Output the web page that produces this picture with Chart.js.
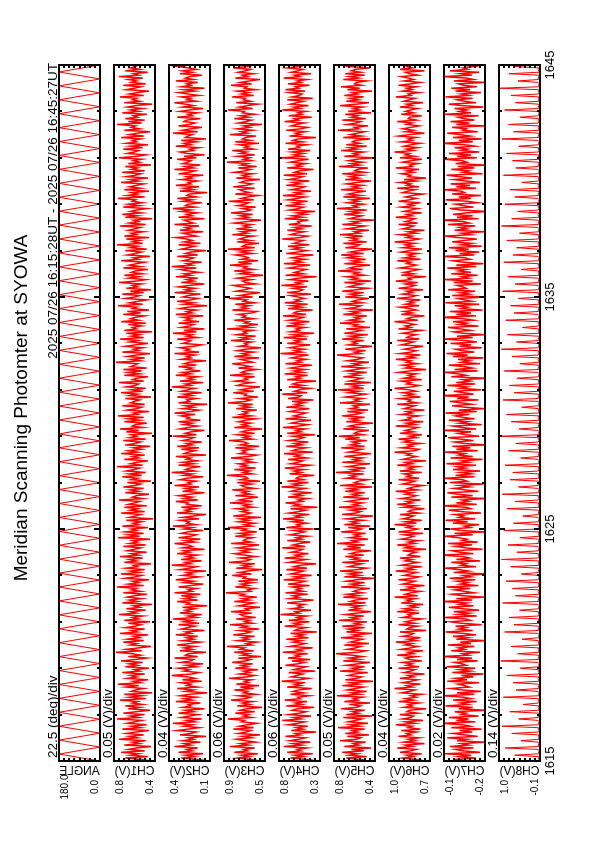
<!DOCTYPE html>
<html>
<head>
<meta charset="utf-8">
<script src="https://cdn.jsdelivr.net/npm/chart.js@4.4.0/dist/chart.umd.min.js"></script>
<style>
  html, body { margin: 0; padding: 0; background: #fff; overflow: hidden; }
  /* the plot is laid out in landscape and turned to portrait */
  #page { position: absolute; left: 0; top: 0; width: 842px; height: 595px;
          transform-origin: 0 0; transform: translate(0, 842px) rotate(-90deg); }
  #page canvas { position: absolute; left: 0; }
</style>
</head>
<body>
<div id="page"></div>
<script>
// ---- data ----
const titleText = 'Meridian Scanning Photomter at SYOWA';
const periodText = '2025 07/26 16:15:28UT - 2025 07/26 16:45:27UT';
const timeTicks = [15, 25, 35, 45];           // minutes after 16:00
const panelNames = ['ANGLE', 'CH1(V)', 'CH2(V)', 'CH3(V)', 'CH4(V)', 'CH5(V)', 'CH6(V)', 'CH7(V)', 'CH8(V)'];
const divLabels = ['22.5 (deg)/div', '0.05 (V)/div', '0.04 (V)/div', '0.06 (V)/div', '0.06 (V)/div',
                   '0.05 (V)/div', '0.04 (V)/div', '0.02 (V)/div', '0.14 (V)/div'];
const axisMax = [180, 0.8, 0.4, 0.9, 0.8, 0.8, 1.0, -0.1, 1.0];
const axisMin = [0, 0.4, 0.1, 0.5, 0.3, 0.4, 0.7, -0.2, -0.1];

const SAMPLE_START = 15;     // min
const SAMPLE_STEP = 0.0625;  // min between photometer samples
const ANGLE_STEP = 0.3;      // min per sweep

// mirror angle at the turning points of each sweep
const angleDeg = [0,180,0,180,0,180,0,180,0,180,0,180,0,180,0,180,0,180,0,180,
  0,180,0,180,0,180,0,180,0,180,0,180,0,180,0,180,0,180,0,180,
  0,180,0,180,0,180,0,180,0,180,0,180,0,180,0,180,0,180,0,180,
  0,180,0,180,0,180,0,180,0,180,0,180,0,180,0,180,0,180,0,180,
  0,180,0,180,0,180,0,180,0,180,0,180,0,180,0,180,0,180,0,180,0];

const ch1 = [0.61,0.52,0.69,0.47,0.64,0.56,0.73,0.50,0.66,0.58,0.44,0.70,0.55,0.62,0.49,0.75,0.57,0.65,0.51,0.68,
  0.59,0.46,0.72,0.54,0.63,0.48,0.67,0.60,0.53,0.77,0.56,0.64,0.50,0.71,0.58,0.45,0.66,0.55,0.69,0.52,
  0.62,0.57,0.74,0.49,0.65,0.53,0.70,0.43,0.63,0.59,0.51,0.68,0.56,0.76,0.54,0.61,0.47,0.67,0.58,0.64,
  0.50,0.72,0.55,0.60,0.46,0.69,0.57,0.65,0.52,0.73,0.59,0.48,0.66,0.54,0.62,0.78,0.53,0.68,0.56,0.44,
  0.64,0.58,0.71,0.51,0.67,0.55,0.61,0.47,0.74,0.57,0.63,0.50,0.69,0.59,0.54,0.66,0.45,0.70,0.56,0.62,
  0.52,0.75,0.58,0.64,0.49,0.68,0.55,0.61,0.43,0.72,0.57,0.65,0.53,0.67,0.60,0.48,0.71,0.54,0.63,0.58,
  0.77,0.51,0.66,0.56,0.62,0.46,0.69,0.59,0.53,0.73,0.55,0.64,0.50,0.68,0.57,0.61,0.44,0.70,0.58,0.65,
  0.52,0.74,0.56,0.63,0.48,0.67,0.60,0.54,0.71,0.49,0.65,0.57,0.62,0.45,0.76,0.55,0.66,0.51,0.69,0.58,
  0.63,0.47,0.72,0.56,0.61,0.53,0.68,0.42,0.65,0.59,0.54,0.73,0.50,0.64,0.57,0.70,0.48,0.66,0.60,0.55,
  0.75,0.52,0.62,0.58,0.46,0.69,0.56,0.64,0.51,0.71,0.59,0.54,0.67,0.44,0.63,0.57,0.72,0.53,0.65,0.49,
  0.68,0.60,0.55,0.77,0.52,0.64,0.58,0.47,0.70,0.56,0.62,0.50,0.73,0.57,0.66,0.53,0.61,0.45,0.69,0.59,
  0.54,0.71,0.49,0.65,0.58,0.63,0.43,0.68,0.56,0.74,0.52,0.62,0.59,0.48,0.70,0.55,0.66,0.51,0.76,0.57,
  0.61,0.46,0.67,0.58,0.53,0.72,0.50,0.64,0.60,0.55,0.69,0.44,0.65,0.57,0.73,0.52,0.63,0.49,0.68,0.59,
  0.56,0.75,0.51,0.62,0.58,0.47,0.70,0.55,0.66,0.53,0.71,0.48,0.64,0.60,0.57,0.78,0.54,0.63,0.50,0.67,
  0.58,0.45,0.72,0.56,0.61,0.52,0.69,0.59,0.47,0.65,0.57,0.74,0.51,0.63,0.55,0.68,0.43,0.70,0.58,0.62,
  0.53,0.66,0.49,0.73,0.56,0.64,0.59,0.50,0.71,0.54,0.67,0.46,0.62,0.58,0.76,0.52,0.65,0.57,0.48,0.69,
  0.60,0.55,0.72,0.51,0.64,0.44,0.68,0.57,0.62,0.53,0.75,0.58,0.49,0.66,0.56,0.70,0.52,0.63,0.59,0.47,
  0.71,0.54,0.65,0.58,0.50,0.73,0.56,0.61,0.45,0.67,0.59,0.53,0.69,0.48,0.64,0.57,0.77,0.52,0.62,0.55,
  0.68,0.46,0.70,0.58,0.63,0.51,0.66,0.60,0.54,0.74,0.49,0.65,0.56,0.61,0.43,0.69,0.57,0.72,0.53,0.64,
  0.58,0.48,0.71,0.55,0.66,0.52,0.62,0.59,0.76,0.50,0.67,0.57,0.63,0.46,0.70,0.54,0.65,0.58,0.51,0.73,
  0.56,0.64,0.47,0.68,0.59,0.54,0.72,0.50,0.63,0.57,0.69,0.44,0.66,0.55,0.61,0.53,0.75,0.58,0.49,0.67,
  0.60,0.56,0.71,0.52,0.64,0.47,0.68,0.58,0.62,0.54,0.73,0.51,0.65,0.57,0.45,0.70,0.55,0.63,0.59,0.77,
  0.53,0.66,0.50,0.69,0.57,0.61,0.48,0.72,0.56,0.64,0.52,0.67,0.59,0.43,0.70,0.55,0.62,0.58,0.74,0.51,
  0.65,0.57,0.46,0.68,0.60,0.54,0.71,0.49,0.63,0.58,0.66,0.52,0.75,0.56,0.61,0.47,0.69,0.55,0.64,0.59,0.62];

const ch2 = [0.25,0.18,0.31,0.21,0.28,0.15,0.33,0.23,0.27,0.19,0.36,0.24,0.29,0.17,0.30,0.22,0.26,0.13,0.32,0.24,
  0.20,0.34,0.26,0.18,0.29,0.23,0.37,0.21,0.27,0.16,0.31,0.25,0.19,0.33,0.22,0.28,0.14,0.30,0.24,0.26,
  0.17,0.35,0.23,0.29,0.20,0.32,0.25,0.12,0.28,0.22,0.34,0.19,0.27,0.24,0.31,0.16,0.30,0.21,0.26,0.38,
  0.23,0.18,0.29,0.25,0.33,0.20,0.27,0.15,0.31,0.24,0.22,0.36,0.19,0.28,0.26,0.13,0.32,0.23,0.29,0.21,
  0.34,0.25,0.17,0.30,0.22,0.27,0.19,0.35,0.24,0.28,0.14,0.31,0.26,0.21,0.33,0.18,0.29,0.23,0.37,0.20,
  0.26,0.16,0.32,0.24,0.28,0.21,0.30,0.12,0.27,0.25,0.34,0.19,0.29,0.22,0.31,0.17,0.36,0.23,0.26,0.20,
  0.33,0.24,0.15,0.29,0.22,0.35,0.26,0.18,0.30,0.23,0.27,0.13,0.32,0.25,0.20,0.38,0.24,0.28,0.16,0.31,
  0.22,0.27,0.19,0.34,0.25,0.29,0.14,0.30,0.23,0.26,0.36,0.21,0.28,0.17,0.33,0.24,0.20,0.31,0.26,0.15,
  0.29,0.23,0.37,0.20,0.27,0.25,0.32,0.18,0.30,0.22,0.13,0.34,0.24,0.28,0.21,0.31,0.16,0.27,0.26,0.35,
  0.19,0.29,0.23,0.33,0.25,0.14,0.30,0.22,0.28,0.18,0.36,0.24,0.26,0.20,0.32,0.27,0.15,0.29,0.23,0.38,
  0.21,0.28,0.25,0.17,0.33,0.22,0.30,0.19,0.27,0.24,0.35,0.13,0.29,0.26,0.21,0.31,0.18,0.34,0.23,0.27,
  0.16,0.30,0.25,0.22,0.37,0.20,0.28,0.24,0.14,0.32,0.26,0.19,0.29,0.23,0.33,0.17,0.27,0.25,0.31,0.21,
  0.36,0.24,0.18,0.30,0.22,0.28,0.12,0.33,0.25,0.27,0.20,0.34,0.23,0.29,0.16,0.31,0.26,0.21,0.38,0.24,
  0.28,0.15,0.32,0.22,0.26,0.19,0.35,0.24,0.30,0.17,0.27,0.23,0.33,0.20,0.29,0.25,0.13,0.31,0.24,0.27,
  0.21,0.36,0.18,0.28,0.25,0.32,0.22,0.16,0.30,0.26,0.24,0.34,0.19,0.27,0.23,0.37,0.20,0.29,0.14,0.31,
  0.25,0.22,0.33,0.18,0.28,0.24,0.30,0.15,0.35,0.23,0.27,0.20,0.32,0.26,0.12,0.29,0.22,0.34,0.24,0.19,
  0.30,0.26,0.17,0.36,0.23,0.28,0.21,0.33,0.25,0.14,0.31,0.22,0.27,0.19,0.35,0.24,0.29,0.18,0.26,0.32,
  0.20,0.38,0.23,0.27,0.16,0.30,0.25,0.22,0.34,0.19,0.28,0.24,0.13,0.31,0.26,0.21,0.33,0.17,0.29,0.23,
  0.27,0.35,0.20,0.25,0.30,0.15,0.32,0.24,0.28,0.18,0.36,0.22,0.26,0.29,0.14,0.33,0.23,0.27,0.19,0.31,
  0.24,0.37,0.21,0.28,0.26,0.16,0.30,0.23,0.34,0.20,0.27,0.25,0.12,0.32,0.22,0.29,0.18,0.35,0.24,0.26,
  0.19,0.31,0.23,0.27,0.15,0.33,0.25,0.21,0.36,0.22,0.28,0.17,0.30,0.26,0.24,0.34,0.20,0.29,0.14,0.27,
  0.32,0.22,0.25,0.18,0.35,0.24,0.29,0.20,0.31,0.13,0.28,0.26,0.23,0.37,0.19,0.30,0.24,0.16,0.33,0.25,
  0.21,0.29,0.27,0.17,0.34,0.23,0.26,0.19,0.32,0.25,0.15,0.30,0.22,0.28,0.36,0.20,0.27,0.24,0.31,0.18,
  0.26,0.33,0.21,0.29,0.14,0.31,0.24,0.27,0.19,0.35,0.22,0.28,0.25,0.16,0.32,0.23,0.30,0.20,0.26,0.34,0.24];

const ch3 = [0.70,0.62,0.77,0.65,0.73,0.57,0.80,0.67,0.71,0.60,0.84,0.66,0.74,0.59,0.69,0.78,0.63,0.72,0.55,0.76,
  0.68,0.64,0.81,0.61,0.75,0.67,0.58,0.73,0.70,0.86,0.63,0.71,0.66,0.79,0.60,0.74,0.68,0.53,0.77,0.65,
  0.72,0.62,0.83,0.69,0.64,0.76,0.59,0.71,0.67,0.80,0.61,0.74,0.56,0.78,0.66,0.70,0.63,0.85,0.68,0.60,
  0.75,0.65,0.71,0.57,0.79,0.67,0.73,0.62,0.82,0.69,0.64,0.76,0.54,0.72,0.66,0.80,0.61,0.74,0.70,0.87,
  0.63,0.68,0.58,0.77,0.66,0.72,0.60,0.81,0.69,0.64,0.75,0.56,0.73,0.67,0.84,0.62,0.70,0.65,0.78,0.59,
  0.71,0.74,0.63,0.83,0.66,0.69,0.55,0.76,0.68,0.61,0.80,0.65,0.72,0.58,0.74,0.70,0.88,0.64,0.67,0.60,
  0.79,0.66,0.73,0.62,0.76,0.57,0.71,0.69,0.82,0.63,0.75,0.67,0.53,0.78,0.65,0.72,0.60,0.85,0.68,0.64,
  0.74,0.59,0.70,0.80,0.66,0.73,0.61,0.77,0.67,0.56,0.83,0.64,0.71,0.69,0.62,0.79,0.65,0.75,0.58,0.72,
  0.68,0.86,0.63,0.70,0.60,0.76,0.66,0.74,0.54,0.81,0.69,0.64,0.73,0.67,0.78,0.61,0.71,0.65,0.84,0.62,
  0.75,0.68,0.57,0.79,0.64,0.72,0.66,0.82,0.60,0.70,0.73,0.63,0.77,0.55,0.74,0.67,0.69,0.87,0.62,0.71,
  0.65,0.80,0.59,0.73,0.68,0.76,0.61,0.70,0.64,0.83,0.66,0.58,0.75,0.69,0.72,0.63,0.79,0.56,0.74,0.67,
  0.70,0.85,0.62,0.71,0.65,0.77,0.60,0.73,0.68,0.53,0.80,0.66,0.72,0.64,0.76,0.69,0.59,0.82,0.63,0.74,
  0.67,0.71,0.58,0.78,0.65,0.73,0.62,0.86,0.69,0.64,0.75,0.57,0.70,0.68,0.81,0.61,0.74,0.66,0.55,0.77,
  0.72,0.63,0.79,0.67,0.70,0.60,0.84,0.65,0.73,0.69,0.58,0.76,0.64,0.71,0.82,0.62,0.68,0.74,0.56,0.80,
  0.66,0.72,0.61,0.77,0.69,0.54,0.75,0.67,0.70,0.63,0.83,0.65,0.73,0.59,0.78,0.68,0.71,0.62,0.87,0.64,
  0.74,0.57,0.70,0.66,0.80,0.61,0.72,0.69,0.76,0.63,0.58,0.82,0.67,0.73,0.65,0.79,0.60,0.71,0.68,0.85,
  0.62,0.75,0.66,0.55,0.78,0.70,0.64,0.73,0.81,0.59,0.69,0.72,0.63,0.77,0.67,0.52,0.74,0.65,0.80,0.61,
  0.71,0.68,0.84,0.63,0.76,0.57,0.73,0.66,0.70,0.79,0.62,0.74,0.65,0.86,0.60,0.72,0.69,0.56,0.77,0.64,
  0.75,0.70,0.61,0.82,0.67,0.73,0.58,0.78,0.65,0.71,0.63,0.80,0.68,0.54,0.76,0.66,0.74,0.62,0.83,0.69,
  0.64,0.72,0.59,0.77,0.70,0.66,0.85,0.61,0.73,0.67,0.57,0.79,0.65,0.71,0.75,0.60,0.81,0.68,0.63,0.74,
  0.70,0.55,0.78,0.66,0.72,0.62,0.80,0.69,0.64,0.76,0.58,0.73,0.67,0.87,0.63,0.71,0.65,0.77,0.60,0.74,
  0.68,0.82,0.61,0.70,0.66,0.75,0.56,0.79,0.64,0.72,0.69,0.59,0.84,0.67,0.73,0.62,0.77,0.65,0.71,0.53,
  0.76,0.68,0.63,0.80,0.66,0.74,0.60,0.72,0.70,0.86,0.62,0.75,0.67,0.57,0.78,0.64,0.71,0.69,0.82,0.61,
  0.73,0.66,0.77,0.59,0.70,0.68,0.83,0.63,0.74,0.65,0.55,0.79,0.67,0.72,0.61,0.76,0.69,0.64,0.81,0.66,0.70];

const ch4 = [0.55,0.44,0.66,0.50,0.61,0.39,0.70,0.53,0.58,0.46,0.74,0.52,0.63,0.42,0.67,0.56,0.48,0.72,0.54,0.60,
  0.35,0.65,0.51,0.59,0.45,0.69,0.57,0.49,0.76,0.53,0.62,0.41,0.68,0.55,0.47,0.64,0.58,0.37,0.71,0.52,
  0.60,0.46,0.73,0.54,0.57,0.43,0.66,0.50,0.63,0.56,0.40,0.70,0.53,0.61,0.48,0.77,0.55,0.44,0.65,0.58,
  0.51,0.68,0.36,0.62,0.54,0.47,0.72,0.57,0.49,0.64,0.42,0.69,0.55,0.60,0.45,0.75,0.52,0.58,0.39,0.67,
  0.56,0.48,0.63,0.53,0.71,0.44,0.59,0.50,0.66,0.34,0.61,0.57,0.47,0.73,0.54,0.62,0.43,0.68,0.51,0.58,
  0.46,0.78,0.55,0.60,0.41,0.65,0.52,0.57,0.49,0.70,0.54,0.38,0.67,0.56,0.63,0.45,0.72,0.50,0.59,0.53,
  0.64,0.43,0.69,0.55,0.48,0.74,0.52,0.61,0.40,0.66,0.57,0.50,0.71,0.46,0.62,0.54,0.35,0.68,0.58,0.47,
  0.73,0.53,0.60,0.44,0.65,0.56,0.51,0.76,0.48,0.63,0.55,0.42,0.70,0.52,0.59,0.45,0.67,0.57,0.49,0.62,
  0.38,0.71,0.54,0.58,0.46,0.64,0.50,0.75,0.53,0.60,0.43,0.68,0.56,0.47,0.66,0.33,0.62,0.55,0.72,0.51,
  0.57,0.45,0.69,0.52,0.61,0.40,0.65,0.58,0.48,0.77,0.54,0.63,0.44,0.70,0.50,0.59,0.56,0.37,0.67,0.53,
  0.62,0.49,0.73,0.55,0.42,0.66,0.57,0.51,0.69,0.46,0.60,0.54,0.74,0.39,0.64,0.58,0.47,0.71,0.52,0.61,
  0.44,0.68,0.56,0.50,0.63,0.36,0.70,0.53,0.59,0.48,0.75,0.55,0.45,0.65,0.57,0.41,0.72,0.51,0.62,0.54,
  0.47,0.67,0.58,0.43,0.71,0.52,0.60,0.49,0.64,0.38,0.69,0.56,0.53,0.76,0.46,0.61,0.55,0.42,0.68,0.50,
  0.63,0.57,0.35,0.70,0.54,0.59,0.45,0.73,0.51,0.62,0.48,0.66,0.55,0.40,0.72,0.53,0.58,0.47,0.65,0.56,
  0.44,0.78,0.52,0.61,0.49,0.67,0.57,0.42,0.70,0.54,0.60,0.46,0.74,0.51,0.63,0.37,0.66,0.55,0.59,0.48,
  0.71,0.53,0.64,0.43,0.68,0.56,0.50,0.75,0.47,0.62,0.58,0.39,0.69,0.52,0.65,0.45,0.73,0.54,0.60,0.49,
  0.57,0.66,0.41,0.70,0.55,0.51,0.63,0.46,0.77,0.53,0.59,0.44,0.67,0.56,0.34,0.72,0.50,0.61,0.54,0.47,
  0.68,0.58,0.42,0.74,0.52,0.60,0.48,0.65,0.55,0.38,0.71,0.57,0.46,0.63,0.53,0.69,0.43,0.62,0.56,0.50,
  0.76,0.54,0.45,0.66,0.59,0.49,0.70,0.52,0.61,0.40,0.68,0.55,0.57,0.44,0.73,0.51,0.64,0.47,0.58,0.36,
  0.67,0.56,0.50,0.72,0.53,0.62,0.45,0.69,0.58,0.48,0.75,0.52,0.60,0.41,0.65,0.55,0.49,0.71,0.54,0.63,
  0.43,0.68,0.57,0.51,0.74,0.46,0.61,0.55,0.38,0.70,0.53,0.59,0.47,0.66,0.56,0.44,0.77,0.52,0.62,0.50,
  0.64,0.42,0.69,0.55,0.58,0.46,0.72,0.51,0.63,0.57,0.35,0.67,0.54,0.60,0.48,0.71,0.53,0.45,0.65,0.59,
  0.49,0.73,0.56,0.61,0.40,0.68,0.52,0.57,0.47,0.76,0.54,0.62,0.44,0.66,0.58,0.50,0.70,0.39,0.64,0.55,
  0.52,0.67,0.48,0.72,0.56,0.60,0.43,0.69,0.53,0.58,0.46,0.74,0.55,0.61,0.41,0.65,0.57,0.51,0.70,0.54,0.59];

const ch5 = [0.60,0.53,0.68,0.48,0.65,0.57,0.72,0.51,0.63,0.44,0.70,0.56,0.61,0.49,0.74,0.58,0.54,0.67,0.46,0.69,
  0.57,0.62,0.50,0.76,0.55,0.64,0.47,0.66,0.59,0.53,0.71,0.43,0.68,0.56,0.62,0.50,0.73,0.58,0.54,0.65,
  0.45,0.70,0.57,0.61,0.52,0.77,0.55,0.63,0.48,0.67,0.59,0.51,0.72,0.56,0.64,0.42,0.69,0.58,0.53,0.66,
  0.60,0.47,0.74,0.54,0.62,0.50,0.68,0.57,0.45,0.71,0.55,0.65,0.52,0.63,0.78,0.56,0.49,0.67,0.59,0.54,
  0.70,0.46,0.64,0.58,0.52,0.73,0.55,0.61,0.43,0.68,0.57,0.66,0.50,0.72,0.54,0.60,0.48,0.75,0.56,0.63,
  0.51,0.69,0.58,0.44,0.66,0.55,0.62,0.53,0.76,0.49,0.64,0.59,0.47,0.71,0.56,0.67,0.52,0.61,0.57,0.45,
  0.73,0.54,0.63,0.50,0.68,0.58,0.41,0.70,0.55,0.65,0.52,0.74,0.57,0.48,0.66,0.60,0.53,0.72,0.46,0.62,
  0.56,0.69,0.51,0.64,0.59,0.44,0.71,0.54,0.67,0.50,0.77,0.57,0.62,0.47,0.65,0.55,0.60,0.49,0.73,0.58,
  0.53,0.66,0.45,0.70,0.57,0.63,0.51,0.68,0.56,0.42,0.72,0.59,0.54,0.64,0.48,0.75,0.55,0.61,0.52,0.67,
  0.58,0.46,0.71,0.55,0.62,0.50,0.69,0.57,0.65,0.43,0.74,0.53,0.60,0.56,0.47,0.68,0.59,0.64,0.51,0.78,
  0.55,0.63,0.49,0.67,0.58,0.45,0.72,0.54,0.61,0.52,0.70,0.57,0.44,0.66,0.59,0.53,0.73,0.50,0.64,0.56,
  0.62,0.48,0.69,0.55,0.75,0.51,0.60,0.57,0.46,0.71,0.54,0.65,0.58,0.42,0.68,0.56,0.63,0.50,0.72,0.59,
  0.53,0.67,0.47,0.64,0.57,0.61,0.45,0.74,0.55,0.60,0.52,0.69,0.58,0.49,0.66,0.56,0.76,0.51,0.62,0.54,
  0.70,0.44,0.65,0.58,0.53,0.71,0.56,0.63,0.48,0.68,0.59,0.50,0.73,0.55,0.61,0.46,0.67,0.57,0.52,0.64,
  0.77,0.54,0.60,0.49,0.69,0.56,0.43,0.66,0.58,0.62,0.51,0.72,0.55,0.64,0.47,0.70,0.59,0.53,0.68,0.45,
  0.61,0.57,0.74,0.50,0.65,0.55,0.60,0.48,0.71,0.56,0.63,0.42,0.67,0.58,0.54,0.75,0.52,0.62,0.57,0.46,
  0.69,0.55,0.64,0.51,0.72,0.58,0.47,0.66,0.60,0.53,0.70,0.44,0.63,0.57,0.68,0.50,0.61,0.56,0.76,0.52,
  0.65,0.59,0.45,0.70,0.54,0.62,0.49,0.67,0.57,0.73,0.51,0.64,0.56,0.43,0.69,0.58,0.55,0.71,0.48,0.63,
  0.57,0.66,0.52,0.74,0.55,0.60,0.46,0.68,0.58,0.50,0.72,0.56,0.62,0.41,0.65,0.59,0.53,0.70,0.55,0.64,
  0.48,0.77,0.57,0.61,0.51,0.67,0.56,0.63,0.45,0.71,0.54,0.66,0.59,0.49,0.73,0.55,0.62,0.52,0.68,0.58,
  0.44,0.69,0.56,0.64,0.53,0.72,0.50,0.60,0.57,0.47,0.75,0.55,0.63,0.52,0.66,0.58,0.42,0.70,0.56,0.61,
  0.51,0.73,0.57,0.65,0.48,0.68,0.55,0.62,0.59,0.45,0.71,0.53,0.64,0.57,0.50,0.76,0.56,0.60,0.47,0.67,
  0.58,0.54,0.72,0.49,0.63,0.57,0.69,0.44,0.66,0.55,0.61,0.52,0.74,0.58,0.46,0.68,0.56,0.64,0.51,0.70,
  0.57,0.62,0.43,0.67,0.55,0.73,0.53,0.60,0.58,0.48,0.71,0.56,0.65,0.50,0.69,0.54,0.63,0.59,0.45,0.66,0.60];

const ch6 = [0.85,0.79,0.90,0.82,0.87,0.76,0.92,0.84,0.80,0.94,0.83,0.88,0.74,0.89,0.81,0.86,0.78,0.93,0.84,0.87,
  0.80,0.91,0.77,0.86,0.83,0.95,0.81,0.88,0.75,0.90,0.84,0.82,0.92,0.79,0.87,0.85,0.73,0.89,0.83,0.86,
  0.78,0.93,0.82,0.88,0.80,0.84,0.76,0.91,0.85,0.81,0.96,0.83,0.87,0.77,0.90,0.84,0.79,0.92,0.82,0.86,
  0.74,0.89,0.84,0.81,0.93,0.78,0.87,0.83,0.90,0.76,0.85,0.88,0.80,0.94,0.82,0.86,0.75,0.91,0.84,0.79,
  0.88,0.83,0.95,0.80,0.86,0.77,0.90,0.84,0.82,0.92,0.73,0.87,0.85,0.79,0.93,0.81,0.88,0.83,0.76,0.90,
  0.84,0.86,0.78,0.94,0.82,0.89,0.80,0.85,0.75,0.91,0.83,0.87,0.81,0.96,0.79,0.88,0.84,0.77,0.92,0.82,
  0.86,0.74,0.90,0.85,0.81,0.93,0.83,0.78,0.89,0.84,0.80,0.95,0.82,0.87,0.76,0.91,0.85,0.79,0.88,0.83,
  0.92,0.77,0.86,0.84,0.80,0.90,0.73,0.88,0.83,0.94,0.81,0.86,0.78,0.91,0.85,0.82,0.89,0.75,0.93,0.84,
  0.79,0.87,0.83,0.96,0.80,0.88,0.76,0.90,0.85,0.82,0.92,0.78,0.86,0.84,0.74,0.89,0.81,0.94,0.83,0.87,
  0.77,0.91,0.84,0.80,0.88,0.83,0.95,0.79,0.86,0.82,0.75,0.90,0.85,0.81,0.93,0.78,0.87,0.84,0.89,0.76,
  0.92,0.82,0.86,0.79,0.94,0.83,0.88,0.73,0.90,0.85,0.80,0.87,0.84,0.96,0.81,0.78,0.91,0.83,0.86,0.77,
  0.89,0.84,0.93,0.80,0.85,0.76,0.92,0.82,0.88,0.83,0.79,0.95,0.81,0.87,0.75,0.90,0.84,0.86,0.78,0.91,
  0.83,0.87,0.74,0.89,0.85,0.81,0.94,0.79,0.86,0.84,0.92,0.77,0.88,0.82,0.90,0.80,0.85,0.96,0.83,0.78,
  0.87,0.84,0.91,0.76,0.89,0.82,0.86,0.80,0.93,0.85,0.73,0.88,0.83,0.90,0.79,0.87,0.84,0.95,0.81,0.86,
  0.77,0.92,0.84,0.80,0.89,0.83,0.75,0.91,0.86,0.82,0.94,0.78,0.87,0.85,0.80,0.90,0.83,0.76,0.93,0.84,
  0.88,0.81,0.86,0.96,0.79,0.87,0.84,0.74,0.91,0.83,0.89,0.80,0.85,0.92,0.78,0.88,0.82,0.86,0.77,0.94,
  0.84,0.80,0.90,0.83,0.87,0.75,0.93,0.85,0.81,0.88,0.79,0.95,0.84,0.86,0.73,0.91,0.82,0.89,0.83,0.78,
  0.92,0.85,0.80,0.87,0.84,0.94,0.77,0.89,0.82,0.86,0.79,0.91,0.85,0.76,0.90,0.83,0.88,0.81,0.96,0.84,
  0.78,0.87,0.83,0.92,0.80,0.86,0.74,0.90,0.85,0.82,0.93,0.79,0.88,0.84,0.81,0.95,0.83,0.87,0.76,0.89,
  0.84,0.79,0.91,0.82,0.86,0.77,0.93,0.85,0.80,0.88,0.83,0.75,0.90,0.86,0.81,0.94,0.78,0.87,0.84,0.92,
  0.80,0.89,0.73,0.86,0.84,0.91,0.82,0.87,0.78,0.95,0.83,0.85,0.79,0.90,0.84,0.76,0.92,0.81,0.88,0.85,
  0.96,0.82,0.87,0.79,0.89,0.84,0.77,0.91,0.83,0.86,0.80,0.93,0.85,0.74,0.88,0.82,0.90,0.84,0.78,0.87,
  0.83,0.94,0.80,0.86,0.85,0.76,0.91,0.82,0.88,0.84,0.79,0.92,0.83,0.87,0.75,0.89,0.85,0.81,0.95,0.84,
  0.86,0.78,0.90,0.83,0.87,0.80,0.93,0.84,0.77,0.89,0.82,0.86,0.91,0.79,0.85,0.88,0.74,0.92,0.83,0.87,0.85];

const ch7 = [-0.152,-0.124,-0.178,-0.136,-0.166,-0.102,-0.188,-0.146,-0.128,-0.172,-0.114,-0.160,-0.142,-0.198,-0.132,-0.156,-0.108,-0.182,-0.150,-0.122,
  -0.168,-0.138,-0.192,-0.118,-0.164,-0.146,-0.094,-0.176,-0.130,-0.160,-0.112,-0.184,-0.142,-0.154,-0.126,-0.202,-0.136,-0.170,-0.104,-0.158,
  -0.140,-0.180,-0.122,-0.166,-0.148,-0.098,-0.174,-0.132,-0.190,-0.144,-0.116,-0.162,-0.150,-0.134,-0.186,-0.108,-0.156,-0.128,-0.172,-0.142,
  -0.196,-0.120,-0.164,-0.138,-0.176,-0.106,-0.154,-0.144,-0.126,-0.182,-0.132,-0.168,-0.092,-0.160,-0.146,-0.188,-0.118,-0.150,-0.136,-0.174,
  -0.110,-0.166,-0.140,-0.204,-0.130,-0.158,-0.122,-0.178,-0.148,-0.104,-0.170,-0.136,-0.154,-0.128,-0.192,-0.142,-0.116,-0.164,-0.152,-0.100,
  -0.180,-0.134,-0.162,-0.124,-0.186,-0.146,-0.112,-0.172,-0.138,-0.156,-0.096,-0.168,-0.130,-0.198,-0.144,-0.120,-0.174,-0.150,-0.126,-0.164,
  -0.106,-0.184,-0.140,-0.158,-0.132,-0.176,-0.114,-0.166,-0.148,-0.206,-0.124,-0.160,-0.136,-0.102,-0.178,-0.142,-0.154,-0.118,-0.188,-0.130,
  -0.162,-0.146,-0.092,-0.172,-0.138,-0.120,-0.194,-0.152,-0.128,-0.168,-0.110,-0.182,-0.144,-0.156,-0.134,-0.100,-0.170,-0.126,-0.200,-0.140,
  -0.116,-0.164,-0.150,-0.186,-0.122,-0.158,-0.104,-0.176,-0.136,-0.148,-0.126,-0.190,-0.142,-0.112,-0.166,-0.154,-0.094,-0.180,-0.130,-0.160,
  -0.144,-0.202,-0.118,-0.170,-0.134,-0.108,-0.184,-0.150,-0.124,-0.162,-0.138,-0.196,-0.114,-0.156,-0.146,-0.098,-0.174,-0.128,-0.166,-0.140,
  -0.188,-0.122,-0.152,-0.132,-0.178,-0.106,-0.160,-0.144,-0.194,-0.116,-0.170,-0.136,-0.150,-0.102,-0.182,-0.130,-0.164,-0.120,-0.204,-0.148,
  -0.126,-0.172,-0.140,-0.110,-0.186,-0.154,-0.134,-0.166,-0.096,-0.178,-0.144,-0.122,-0.192,-0.138,-0.158,-0.112,-0.174,-0.146,-0.128,-0.162,
  -0.104,-0.180,-0.136,-0.198,-0.150,-0.120,-0.168,-0.142,-0.114,-0.184,-0.132,-0.160,-0.090,-0.172,-0.148,-0.124,-0.190,-0.140,-0.156,-0.108,
  -0.176,-0.130,-0.164,-0.146,-0.202,-0.118,-0.154,-0.136,-0.100,-0.182,-0.126,-0.170,-0.150,-0.112,-0.188,-0.142,-0.162,-0.134,-0.196,-0.122,
  -0.158,-0.106,-0.174,-0.144,-0.128,-0.192,-0.138,-0.166,-0.116,-0.180,-0.152,-0.098,-0.170,-0.132,-0.200,-0.146,-0.124,-0.164,-0.140,-0.110,
  -0.184,-0.136,-0.156,-0.122,-0.172,-0.148,-0.094,-0.178,-0.130,-0.166,-0.114,-0.194,-0.142,-0.158,-0.126,-0.186,-0.104,-0.168,-0.150,-0.134,
  -0.204,-0.120,-0.162,-0.140,-0.176,-0.110,-0.154,-0.146,-0.132,-0.190,-0.124,-0.170,-0.102,-0.160,-0.144,-0.182,-0.118,-0.166,-0.136,-0.154,
  -0.108,-0.178,-0.130,-0.196,-0.146,-0.122,-0.164,-0.152,-0.096,-0.174,-0.138,-0.186,-0.128,-0.160,-0.112,-0.192,-0.142,-0.168,-0.120,-0.150,
  -0.180,-0.134,-0.102,-0.166,-0.144,-0.198,-0.126,-0.156,-0.138,-0.176,-0.110,-0.162,-0.148,-0.092,-0.184,-0.132,-0.170,-0.122,-0.154,-0.206,
  -0.140,-0.114,-0.172,-0.146,-0.128,-0.182,-0.158,-0.104,-0.166,-0.136,-0.190,-0.120,-0.150,-0.142,-0.098,-0.178,-0.130,-0.164,-0.116,-0.188,
  -0.152,-0.124,-0.168,-0.138,-0.106,-0.194,-0.146,-0.160,-0.118,-0.174,-0.134,-0.202,-0.128,-0.156,-0.144,-0.100,-0.180,-0.132,-0.166,-0.112,
  -0.186,-0.142,-0.158,-0.126,-0.176,-0.150,-0.094,-0.170,-0.136,-0.192,-0.122,-0.164,-0.140,-0.108,-0.182,-0.146,-0.154,-0.120,-0.198,-0.130,
  -0.162,-0.116,-0.174,-0.148,-0.134,-0.184,-0.102,-0.166,-0.138,-0.156,-0.126,-0.196,-0.144,-0.112,-0.178,-0.150,-0.132,-0.170,-0.104,-0.160,
  -0.142,-0.190,-0.128,-0.164,-0.118,-0.180,-0.148,-0.136,-0.200,-0.124,-0.172,-0.154,-0.098,-0.168,-0.140,-0.186,-0.114,-0.158,-0.146,-0.176,-0.152];

const ch8 = [-0.06,-0.07,-0.05,-0.06,0.58,-0.07,-0.06,-0.08,-0.05,0.83,-0.06,-0.05,-0.07,-0.06,0.41,-0.08,-0.06,-0.05,-0.07,0.66,
  -0.06,-0.07,-0.05,-0.06,0.92,-0.07,-0.06,-0.08,-0.05,0.47,-0.06,-0.05,-0.07,-0.06,0.71,-0.08,-0.06,-0.05,-0.07,0.35,
  -0.06,-0.07,-0.05,-0.06,0.88,-0.07,-0.06,-0.08,-0.05,0.54,-0.06,-0.05,-0.07,-0.06,0.62,-0.08,-0.06,-0.05,-0.07,0.79,
  -0.06,-0.07,-0.05,-0.06,0.43,-0.07,-0.06,-0.08,-0.05,0.95,-0.06,-0.05,-0.07,-0.06,0.50,-0.08,-0.06,-0.05,-0.07,0.68,
  -0.06,-0.07,-0.05,-0.06,0.38,-0.07,-0.06,-0.08,-0.05,0.85,-0.06,-0.05,-0.07,-0.06,0.60,-0.08,-0.06,-0.05,-0.07,0.73,
  -0.06,-0.07,-0.05,-0.06,0.45,-0.07,-0.06,-0.08,-0.05,0.90,-0.06,-0.05,-0.07,-0.06,0.56,-0.08,-0.06,-0.05,-0.07,0.64,
  -0.06,-0.07,-0.05,-0.06,0.81,-0.07,-0.06,-0.08,-0.05,0.40,-0.06,-0.05,-0.07,-0.06,0.69,-0.08,-0.06,-0.05,-0.07,0.93,
  -0.06,-0.07,-0.05,-0.06,0.52,-0.07,-0.06,-0.08,-0.05,0.76,-0.06,-0.05,-0.07,-0.06,0.44,-0.08,-0.06,-0.05,-0.07,0.87,
  -0.06,-0.07,-0.05,-0.06,0.61,-0.07,-0.06,-0.08,-0.05,0.36,-0.06,-0.05,-0.07,-0.06,0.78,-0.08,-0.06,-0.05,-0.07,0.57,
  -0.06,-0.07,-0.05,-0.06,0.91,-0.07,-0.06,-0.08,-0.05,0.48,-0.06,-0.05,-0.07,-0.06,0.70,-0.08,-0.06,-0.05,-0.07,0.63,
  -0.06,-0.07,-0.05,-0.06,0.84,-0.07,-0.06,-0.08,-0.05,0.42,-0.06,-0.05,-0.07,-0.06,0.74,-0.08,-0.06,-0.05,-0.07,0.55,
  -0.06,-0.07,-0.05,-0.06,0.96,-0.07,-0.06,-0.08,-0.05,0.46,-0.06,-0.05,-0.07,-0.06,0.67,-0.08,-0.06,-0.05,-0.07,0.80,
  -0.06,-0.07,-0.05,-0.06,0.39,-0.07,-0.06,-0.08,-0.05,0.89,-0.06,-0.05,-0.07,-0.06,0.59,-0.08,-0.06,-0.05,-0.07,0.72,
  -0.06,-0.07,-0.05,-0.06,0.51,-0.07,-0.06,-0.08,-0.05,0.86,-0.06,-0.05,-0.07,-0.06,0.44,-0.08,-0.06,-0.05,-0.07,0.65,
  -0.06,-0.07,-0.05,-0.06,0.94,-0.07,-0.06,-0.08,-0.05,0.53,-0.06,-0.05,-0.07,-0.06,0.77,-0.08,-0.06,-0.05,-0.07,0.37,
  -0.06,-0.07,-0.05,-0.06,0.82,-0.07,-0.06,-0.08,-0.05,0.60,-0.06,-0.05,-0.07,-0.06,0.69,-0.08,-0.06,-0.05,-0.07,0.48,
  -0.06,-0.07,-0.05,-0.06,0.90,-0.07,-0.06,-0.08,-0.05,0.57,-0.06,-0.05,-0.07,-0.06,0.75,-0.08,-0.06,-0.05,-0.07,0.41,
  -0.06,-0.07,-0.05,-0.06,0.87,-0.07,-0.06,-0.08,-0.05,0.62,-0.06,-0.05,-0.07,-0.06,0.53,-0.08,-0.06,-0.05,-0.07,0.79,
  -0.06,-0.07,-0.05,-0.06,0.45,-0.07,-0.06,-0.08,-0.05,0.93,-0.06,-0.05,-0.07,-0.06,0.66,-0.08,-0.06,-0.05,-0.07,0.50,
  -0.06,-0.07,-0.05,-0.06,0.84,-0.07,-0.06,-0.08,-0.05,0.58,-0.06,-0.05,-0.07,-0.06,0.71,-0.08,-0.06,-0.05,-0.07,0.39,
  -0.06,-0.07,-0.05,-0.06,0.88,-0.07,-0.06,-0.08,-0.05,0.55,-0.06,-0.05,-0.07,-0.06,0.64,-0.08,-0.06,-0.05,-0.07,0.80,
  -0.06,-0.07,-0.05,-0.06,0.47,-0.07,-0.06,-0.08,-0.05,0.92,-0.06,-0.05,-0.07,-0.06,0.61,-0.08,-0.06,-0.05,-0.07,0.74,
  -0.06,-0.07,-0.05,-0.06,0.43,-0.07,-0.06,-0.08,-0.05,0.85,-0.06,-0.05,-0.07,-0.06,0.56,-0.08,-0.06,-0.05,-0.07,0.68,
  -0.06,-0.07,-0.05,-0.06,0.97,-0.07,-0.06,-0.08,-0.05,0.49,-0.06,-0.05,-0.07,-0.06,0.73,-0.08,-0.06,-0.05,-0.07,0.60,-0.06];

const series = [angleDeg, ch1, ch2, ch3, ch4, ch5, ch6, ch7, ch8];

// ---- layout (landscape px, before the page turn) ----
const W = 842, H = 595;
const PLOT_LEFT = 81, PLOT_RIGHT = 777;
const PANEL_TOP0 = 59, PANEL_PITCH = 55, PANEL_H = 41;
const FONT = '"Liberation Sans", Arial, Helvetica, sans-serif';
const RED = '#ff0000';

const panelDecor = {
  id: 'panelDecor',
  afterDatasetsDraw(chart, args, opts) {
    const { ctx, chartArea: a, scales: { x, y } } = chart;
    const i = opts.index;
    ctx.save();
    ctx.strokeStyle = '#000';
    ctx.lineWidth = 2;
    ctx.beginPath();
    // time ticks every 2 min, longer every 10 min
    for (let t = 17; t < 45; t += 2) {
      const px = Math.round(x.getPixelForValue(t));
      const len = (t - 15) % 10 === 0 ? 6 : 3;
      ctx.moveTo(px, a.top); ctx.lineTo(px, a.top + len);
      ctx.moveTo(px, a.bottom); ctx.lineTo(px, a.bottom - len);
    }
    // value ticks, 8 divisions
    for (let j = 1; j < 8; j++) {
      const py = Math.round(y.getPixelForValue(y.min + (y.max - y.min) * j / 8));
      ctx.moveTo(a.left, py); ctx.lineTo(a.left + 3, py);
      ctx.moveTo(a.right, py); ctx.lineTo(a.right - 3, py);
    }
    ctx.stroke();
    ctx.strokeRect(a.left, a.top, a.right - a.left, a.bottom - a.top);

    ctx.fillStyle = '#000';
    ctx.font = '13.5px ' + FONT;
    ctx.textBaseline = 'alphabetic';
    ctx.textAlign = 'left';
    ctx.fillText(divLabels[i], a.left + 3, a.top - 2);
    if (i === 0) {
      ctx.textAlign = 'right';
      ctx.fillText(periodText, a.right + 2, a.top - 2);
      ctx.font = '19px ' + FONT;
      ctx.textAlign = 'center';
      ctx.fillText(titleText, 434, 27);
    }
    // range of the panel
    ctx.font = '10px ' + FONT;
    ctx.textAlign = 'center';
    ctx.textBaseline = 'middle';
    ctx.fillText(axisMax[i].toFixed(1), 55, a.top + 6);
    ctx.fillText(axisMin[i].toFixed(1), 55, a.bottom - 5);
    // channel name, mirrored like the original print
    ctx.save();
    ctx.translate(70, (a.top + a.bottom) / 2);
    ctx.transform(0, -1, -1, 0, 0, 0);
    ctx.font = '12px ' + FONT;
    ctx.fillText(panelNames[i], 0, 0);
    ctx.restore();
    if (i === panelNames.length - 1) {
      ctx.font = '13px ' + FONT;
      ctx.textBaseline = 'top';
      timeTicks.forEach(t => {
        ctx.fillText(String(1600 + t), x.getPixelForValue(t), a.bottom + 4);
      });
      ctx.font = '17px ' + FONT;
      ctx.textBaseline = 'alphabetic';
      ctx.fillText('TIME(UT)', 430, 578);
    }
    ctx.restore();
  }
};

const page = document.getElementById('page');
series.forEach((vals, i) => {
  const top = PANEL_TOP0 + PANEL_PITCH * i;
  const bandTop = i === 0 ? 0 : top - 14;
  const bandBottom = i === series.length - 1 ? H : top + PANEL_H + 3;
  const cv = document.createElement('canvas');
  cv.width = W;
  cv.height = bandBottom - bandTop;
  cv.style.top = bandTop + 'px';
  page.appendChild(cv);

  const step = i === 0 ? ANGLE_STEP : SAMPLE_STEP;
  const pts = vals.map((v, k) => ({ x: SAMPLE_START + k * step, y: v }));

  new Chart(cv, {
    type: 'line',
    data: { datasets: [{ data: pts, borderColor: RED, borderWidth: i === 0 || i === 8 ? 1 : 1.5,
                         pointRadius: 0, tension: 0, fill: false }] },
    options: {
      responsive: false,
      animation: false,
      events: [],
      layout: { padding: { left: PLOT_LEFT, right: W - PLOT_RIGHT, top: top - bandTop, bottom: bandBottom - top - PANEL_H } },
      plugins: { legend: { display: false }, tooltip: { enabled: false }, panelDecor: { index: i } },
      scales: {
        x: { type: 'linear', min: 15, max: 45, display: false },
        y: { type: 'linear', min: axisMin[i], max: axisMax[i], display: false }
      }
    },
    plugins: [panelDecor]
  });
});
</script>
</body>
</html>
